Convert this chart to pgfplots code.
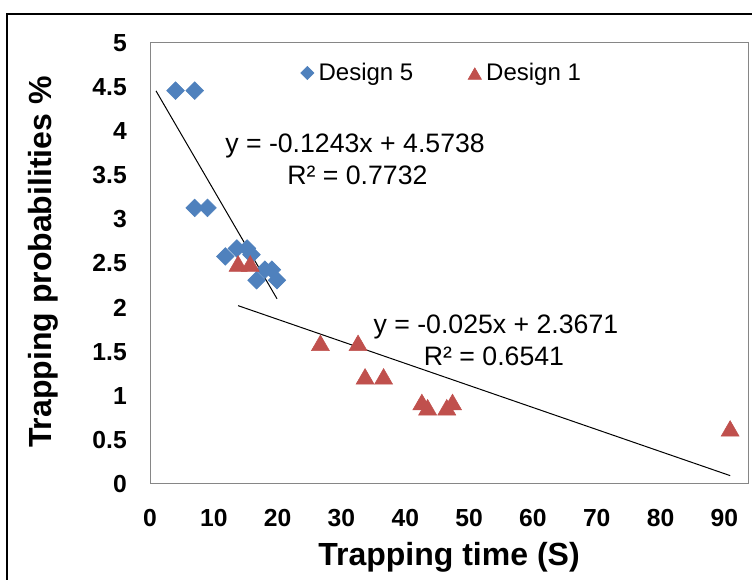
\documentclass[border=0pt]{standalone}
\usepackage{fontspec}
\setmainfont{Liberation Sans}
\usepackage{pgfplots}
\pgfplotsset{compat=1.18}
\definecolor{cfive}{HTML}{4F81BD}
\definecolor{cone}{HTML}{C0504D}
\definecolor{plotframe}{HTML}{868686}

\begin{document}
\begin{tikzpicture}
% 1 px of the reference = 0.75pt; picture is 752 x 580 px
\useasboundingbox (0,0) rectangle (564pt,435pt);
\fill[white] (0,0) rectangle (564pt,435pt);
\draw[black, line width=1.9pt] (5.25pt,-3pt) -- (5.25pt,424.5pt) -- (568pt,424.5pt);
\begin{axis}[
  at={(112.5pt,72pt)}, anchor=south west,
  scale only axis, width=448.5pt, height=330.75pt,
  xmin=0, xmax=93.7, ymin=0, ymax=5,
  xtick={0,10,...,90},
  ytick={0,0.5,1,1.5,2,2.5,3,3.5,4,4.5,5},
  major tick length=0pt,
  axis line style={plotframe, line width=0.75pt},
  /pgf/number format/assume math mode=true,
  tick label style={font=\fontsize{18.5}{20}\selectfont\bfseries, inner sep=0pt},
  yticklabel style={anchor=east, xshift=-17.25pt},
  xticklabel style={anchor=north, yshift=-18.75pt},
  xlabel={Trapping time (S)},
  xlabel style={at={(axis description cs:0.5,-0.166)}, anchor=center,
    font=\fontsize{24}{28}\selectfont\bfseries, inner sep=0pt},
  ylabel={Trapping probabilities \%},
  ylabel style={at={(axis description cs:-0.1784,0.503)}, anchor=center,
    font=\fontsize{24}{28}\selectfont\bfseries, inner sep=0pt},
  legend columns=2,
  legend image code/.code={\draw[#1, every mark/.append style={scale=0.75}] plot coordinates {(0pt,0pt)};},
  legend style={at={(axis cs:23.57,4.66)}, anchor=west, draw=none, fill=none,
    inner sep=0pt, font=\fontsize{18}{20}\selectfont,
    nodes={inner sep=0pt},
    /tikz/every odd column/.append style={column sep=3.5pt},
    /tikz/every even column/.append style={column sep=41pt}},
  legend cell align=left,
]
\addplot[only marks, mark=square*, mark size=4.7pt,
  mark options={rotate=45, fill=cfive, draw=cfive}] coordinates {
  (4,4.46) (7,4.46) (7,3.13) (9,3.13) (11.8,2.58) (13.6,2.67) (15.2,2.67)
  (15.9,2.6) (16.7,2.31) (18,2.43) (19.1,2.43) (19.9,2.31)};
\addlegendentry{Design 5}
\addplot[only marks, mark=triangle*, mark size=7.8pt,
  mark options={fill=cone, draw=cone, yshift=-1.95pt}] coordinates {
  (13.8,2.5) (15.7,2.5) (26.7,1.6) (32.6,1.6) (33.7,1.22) (36.6,1.22)
  (42.6,0.93) (43.5,0.87) (46.5,0.87) (47.4,0.93) (90.9,0.63)};
\addlegendentry{Design 1}
% trendlines
\addplot[black, line width=0.75pt, forget plot] coordinates {(0.94,4.457) (19.9,2.100)};
\addplot[black, line width=0.75pt, forget plot] coordinates {(13.8,2.022) (90.9,0.095)};
\node[font=\fontsize{20}{24}\selectfont, inner sep=0pt] at (axis cs:32.13,3.836) {y = -0.1243x + 4.5738};
\node[font=\fontsize{20}{24}\selectfont, inner sep=0pt] at (axis cs:32.5,3.503) {R² = 0.7732};
\node[font=\fontsize{20}{24}\selectfont, inner sep=0pt] at (axis cs:54.2,1.783) {y = -0.025x + 2.3671};
\node[font=\fontsize{20}{24}\selectfont, inner sep=0pt] at (axis cs:53.9,1.443) {R² = 0.6541};
\end{axis}
\end{tikzpicture}
\end{document}
